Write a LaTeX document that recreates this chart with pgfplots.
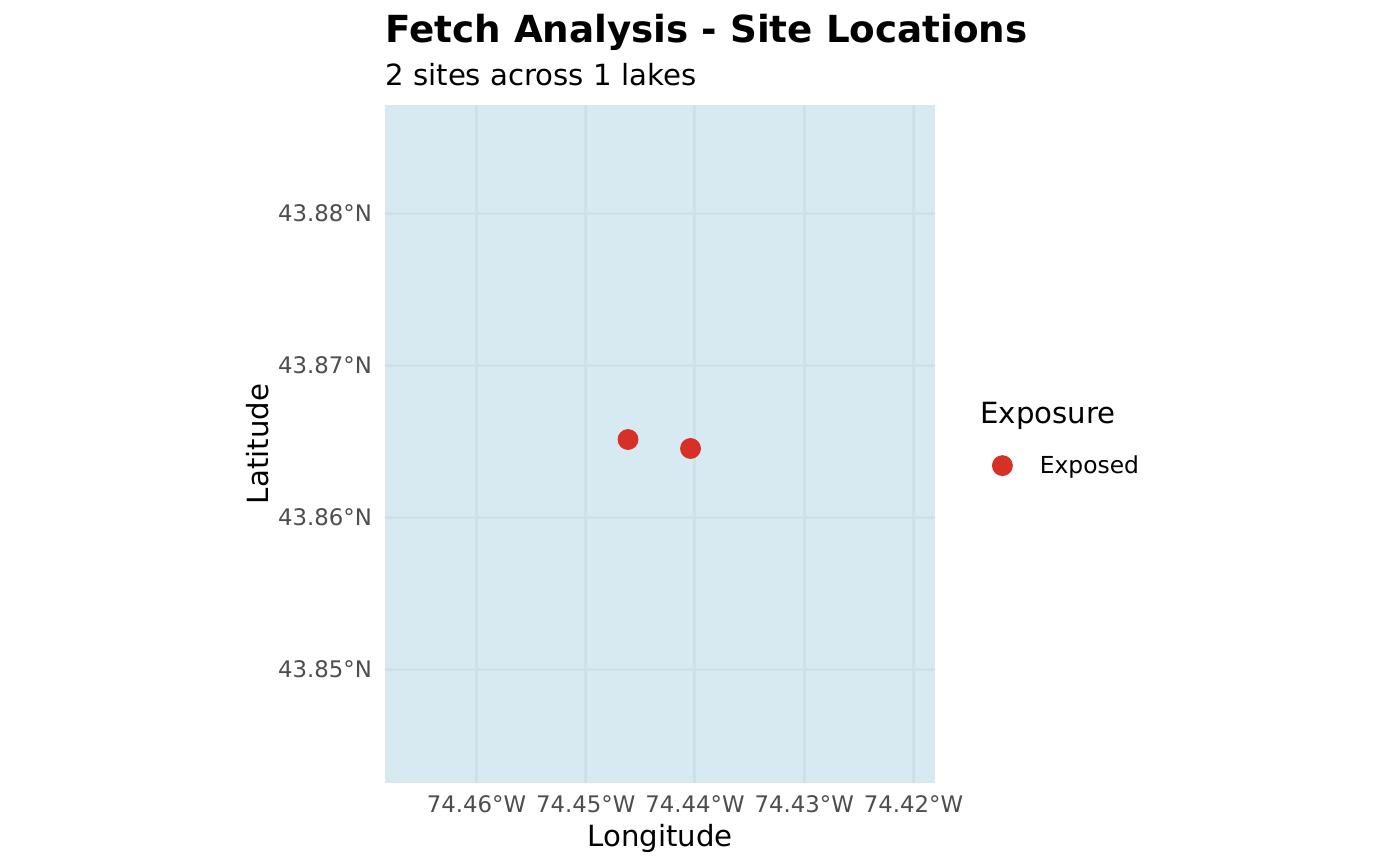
\documentclass[border=0pt]{standalone}
\usepackage{fontspec}
\setmainfont{DejaVu Sans}
\usepackage{pgfplots}
\pgfplotsset{compat=1.18}
\definecolor{panel}{HTML}{D7EAF1}
\definecolor{gridc}{HTML}{CDE1E8}
\definecolor{tickc}{HTML}{4D4D4D}
\definecolor{site}{HTML}{D73027}
\begin{document}
\begin{tikzpicture}[x=1pt,y=1pt]
% page is 700 x 433 pt, panel corner at origin
\useasboundingbox (-192.5,-41.5) rectangle (507.5,391.5);
\begin{axis}[
    at={(0,0)}, anchor=south west,
    scale only axis,
    width=275pt, height=339pt,
    xmin=-74.468375, xmax=-74.41803,
    ymin=43.8425, ymax=43.88711,
    axis line style={draw=none},
    major tick length=0pt,
    axis background/.style={fill=panel},
    grid=major,
    grid style={gridc, line width=1.5pt},
    xtick={-74.46,-74.45,-74.44,-74.43,-74.42},
    xticklabels={74.46°W,74.45°W,74.44°W,74.43°W,74.42°W},
    ytick={43.85,43.86,43.87,43.88},
    yticklabels={43.85°N,43.86°N,43.87°N,43.88°N},
    tick label style={font=\fontsize{11.4}{13}\selectfont, text=tickc},
    xticklabel style={yshift=-3pt},
    yticklabel style={xshift=-3pt},
    xlabel={Longitude}, ylabel={Latitude},
    label style={font=\fontsize{14.6}{16}\selectfont},
    xlabel style={at={(axis description cs:0.5,0)}, anchor=base, yshift=-31.5pt},
    ylabel style={at={(axis description cs:0,0.5)}, anchor=base, rotate=0, yshift=58pt},
    legend style={draw=none, fill=none, at={(1,0.474)}, anchor=west, xshift=25.5pt, yshift=-2pt,
      font=\fontsize{11.7}{13}\selectfont},
    legend cell align=left,
    legend image code/.code={\draw[#1] plot coordinates {(0pt,0pt)}; \path (16.5pt,0pt);},
]
\addplot[only marks, mark=*, mark size=5pt, color=site, mark options={draw=site, fill=site}]
  coordinates {
    (-74.44613, 43.86510)
    (-74.44041, 43.86451)
  };
\addlegendentry{Exposed}
\end{axis}
\node[anchor=base west, inner sep=0pt, font=\fontsize{18.64}{20}\bfseries\selectfont] at (0,370) {Fetch Analysis - Site Locations};
\node[anchor=base west, inner sep=0pt, font=\fontsize{14.6}{16}\selectfont] at (0,348.5) {2 sites across 1 lakes};
\node[anchor=base west, inner sep=0pt, font=\fontsize{14.6}{16}\selectfont] at (297.5,179.5) {Exposure};
\end{tikzpicture}
\end{document}
